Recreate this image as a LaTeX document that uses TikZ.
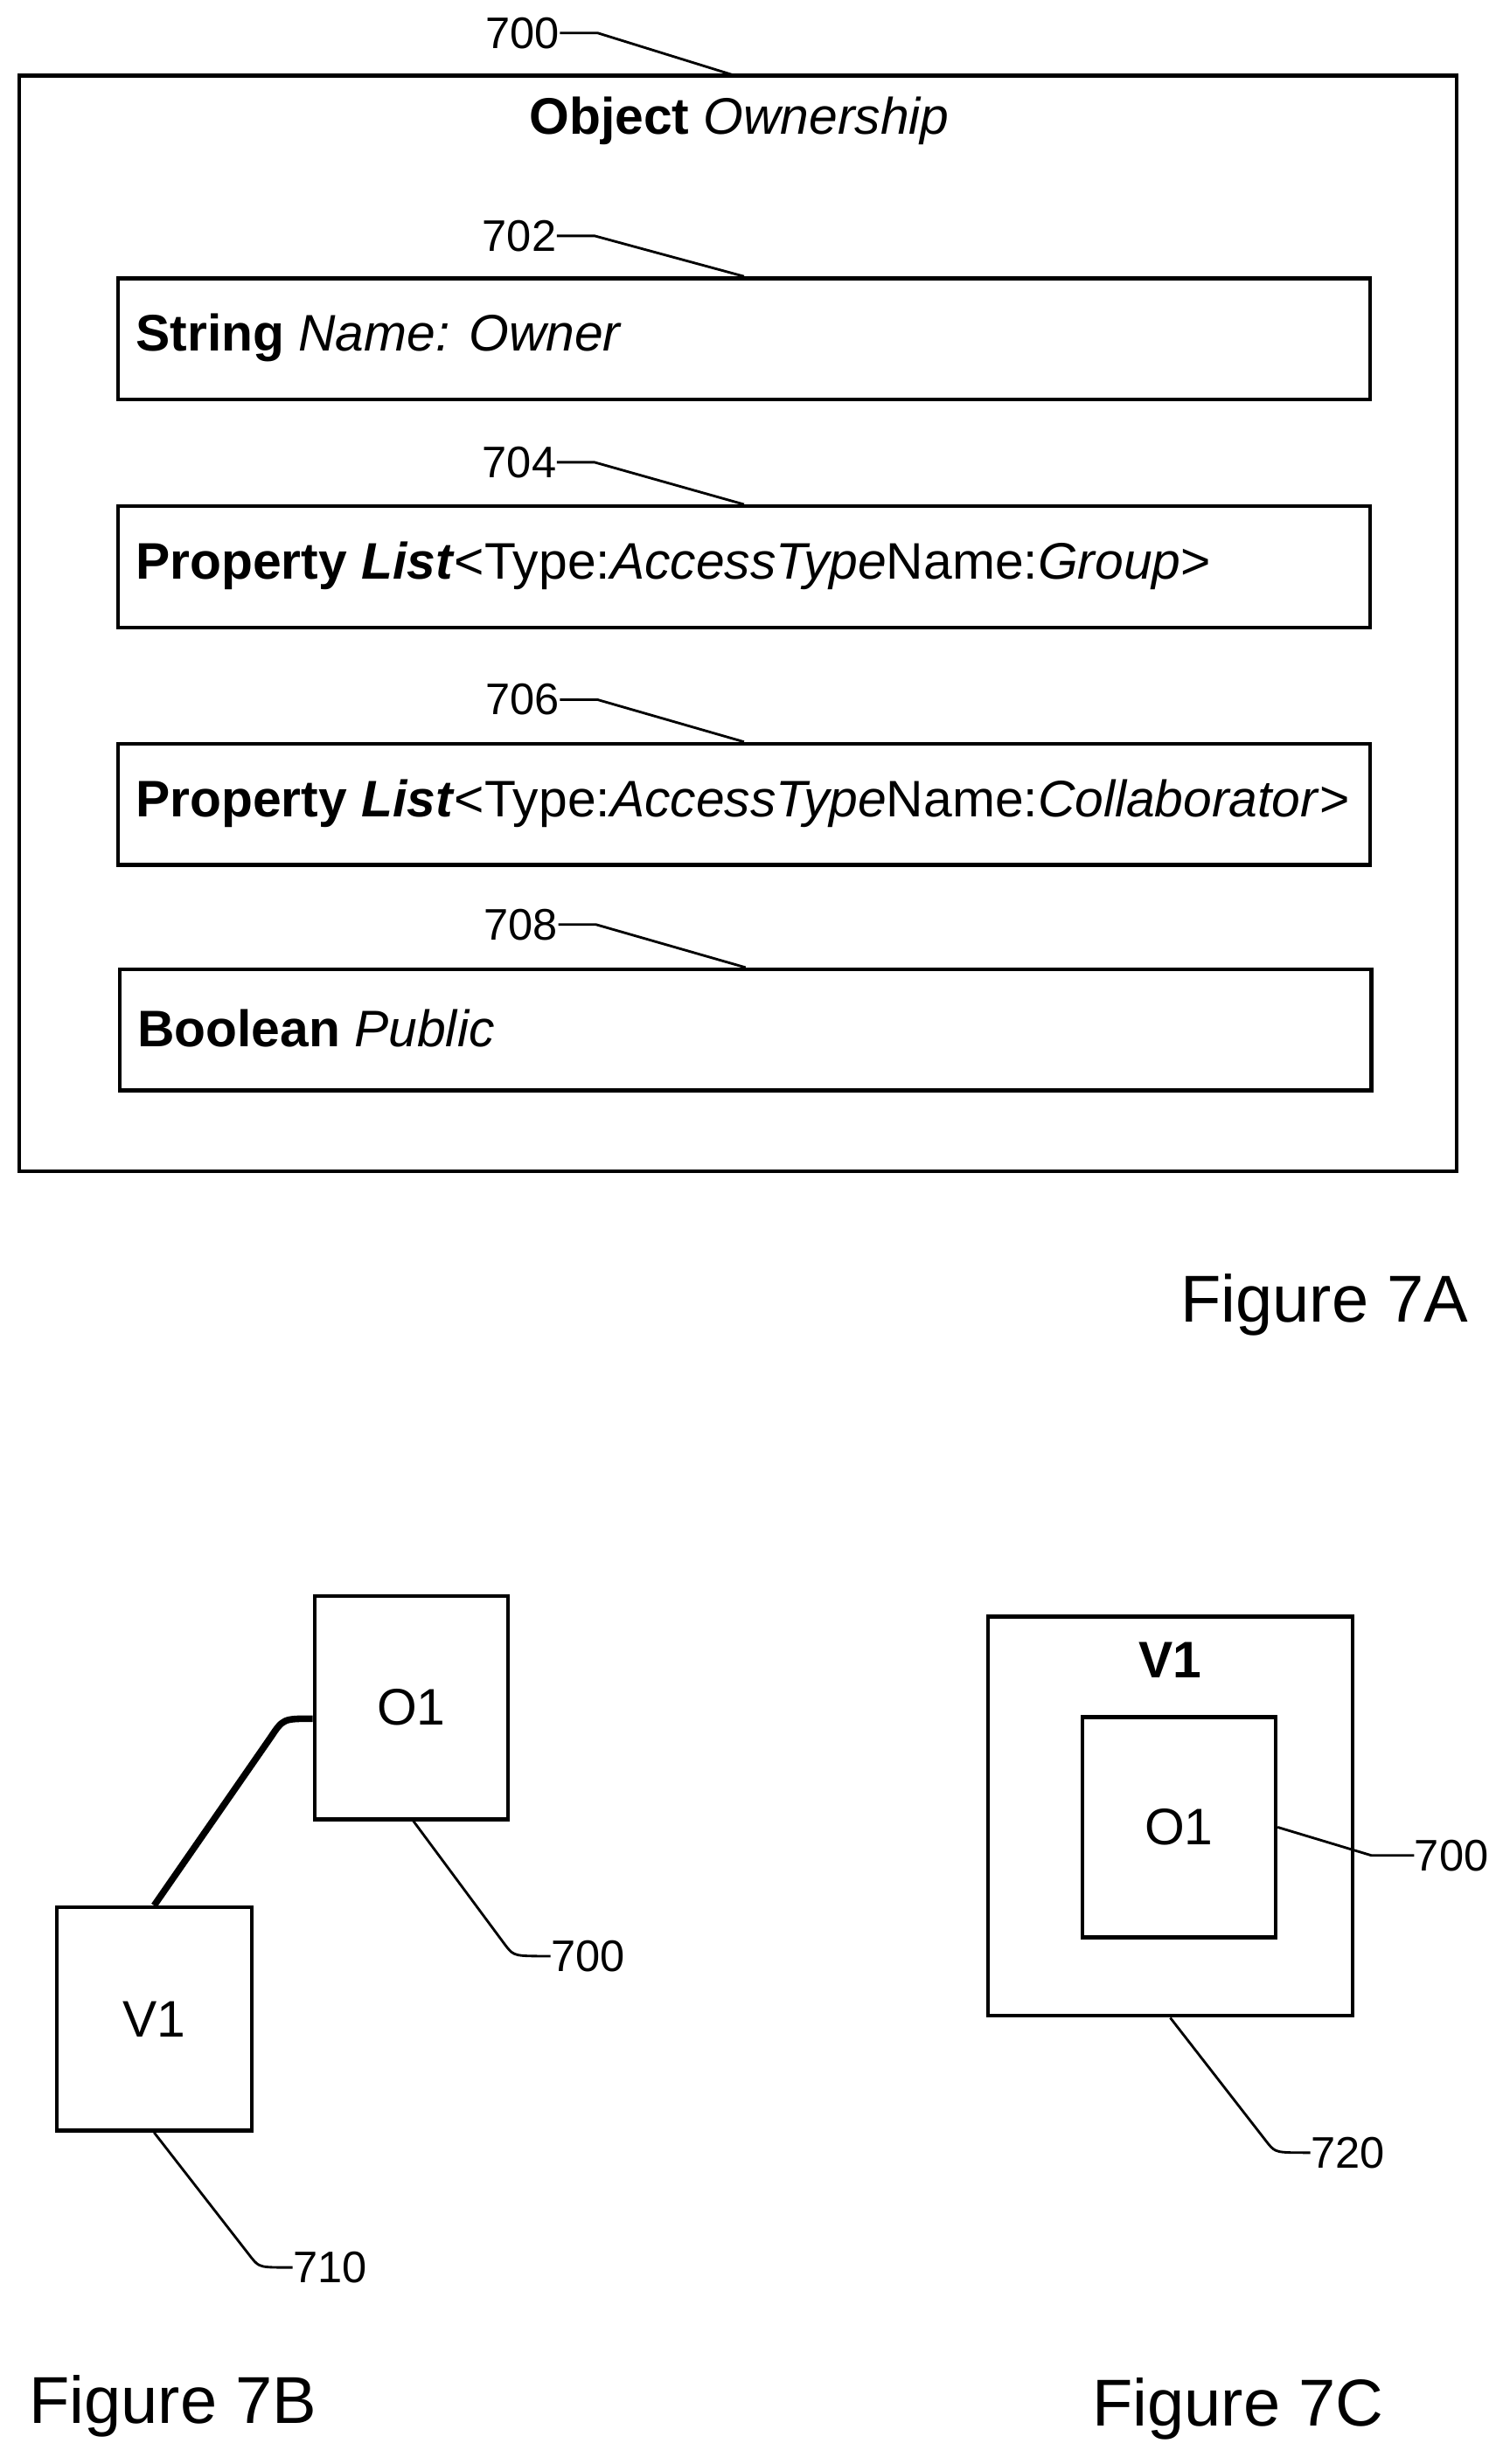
\documentclass[tikz,border=0pt]{standalone}
\usepackage{fontspec}
\setmainfont{Liberation Sans}
\begin{document}
\begin{tikzpicture}[x={(0.02cm,0)},y={(0,-0.02cm)},
    box/.style={draw,line width=1.4pt,rectangle,inner sep=0pt},
    field/.style={box,minimum width=15.92cm,minimum height=1.54cm},
    txt/.style={font=\fontsize{18.6}{21}\selectfont,inner sep=0pt},
    num/.style={font=\fontsize{16}{18}\selectfont,inner sep=0pt},
    fig/.style={font=\fontsize{24}{27}\selectfont,inner sep=0pt},
    lead/.style={line width=0.9pt}]
\useasboundingbox (0,0) rectangle (955,1567);

% Figure 7A
\node[box,minimum width=18.28cm,minimum height=13.94cm] (own) at (469,396.5) {};
\node[txt] (title) at (470,77) {\textbf{Object} \textit{Ownership}};
\node[num,anchor=east] (n700) at (356,21) {700};
\draw[lead] (n700.east) -- (380,21) -- (467,48);

\node[field] (f702) at (473,215.5) {};
\node[txt,anchor=west] (t702) at (86,215) {\textbf{String} \textit{Name: Owner}};
\node[num,anchor=east] (n702) at (354,150) {702};
\draw[lead] (n702.east) -- (378,150) -- (f702.north);

\node[field] (f704) at (473,360.5) {};
\node[txt,anchor=west] (t704) at (86,360) {\textbf{Property \textit{List}}<Type:\textit{AccessType}Name:\textit{Group}>};
\node[num,anchor=east] (n704) at (354,294) {704};
\draw[lead] (n704.east) -- (378,294) -- (f704.north);

\node[field] (f706) at (473,511.5) {};
\node[txt,anchor=west] (t706) at (86,511) {\textbf{Property \textit{List}}<Type:\textit{AccessType}Name:\textit{Collaborator}>};
\node[num,anchor=east] (n706) at (356,445) {706};
\draw[lead] (n706.east) -- (380,445) -- (f706.north);

\node[field] (f708) at (474,655) {};
\node[txt,anchor=west] (t708) at (87,654) {\textbf{Boolean} \textit{Public}};
\node[num,anchor=east] (n708) at (355,588) {708};
\draw[lead] (n708.east) -- (379,588) -- (f708.north);

\node[fig] (fa) at (842,830) {Figure 7A};

% Figure 7B
\node[box,minimum width=2.46cm,minimum height=2.84cm,txt] (o1) at (261.5,1086) {O1};
\node[box,minimum width=2.48cm,minimum height=2.84cm,txt] (v1) at (98,1284) {V1};
\draw[line width=2.4pt] (v1.north) -- (172,1105) .. controls (180,1093) .. (o1.west |- 0,1093);
\coordinate (c700b) at (262,1157);
\node[num,anchor=west] (n700b) at (350,1244) {700};
\draw[lead] (c700b) -- (322,1238) .. controls (327,1244) .. (n700b.west);
\node[num,anchor=west] (n710) at (186,1442) {710};
\draw[lead] (v1.south) -- (160,1436) .. controls (165,1442) .. (n710.west);
\node[fig] (fb) at (110,1530) {Figure 7B};

% Figure 7C
\node[box,minimum width=4.64cm,minimum height=5.08cm] (v1c) at (744,1155) {};
\node[txt] (v1t) at (744,1056) {\textbf{V1}};
\node[box,minimum width=2.46cm,minimum height=2.8cm,txt] (o1c) at (749.5,1162) {O1};
\node[num,anchor=west] (n700c) at (899,1180) {700};
\draw[lead] (o1c.east) -- (872,1180) -- (n700c.west);
\node[num,anchor=west] (n720) at (833,1369) {720};
\draw[lead] (v1c.south) -- (806,1363) .. controls (811,1369) .. (n720.west);
\node[fig] (fc) at (787,1532) {Figure 7C};
\end{tikzpicture}
\end{document}
